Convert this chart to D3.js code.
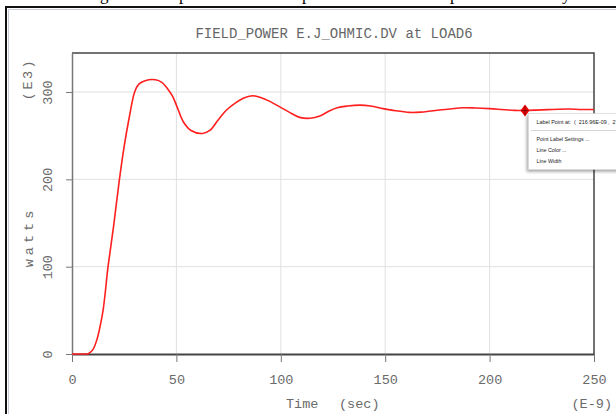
<!DOCTYPE html>
<html>
<head>
<meta charset="utf-8">
<script src="https://cdn.jsdelivr.net/npm/d3@7/dist/d3.min.js"></script>
<style>
  html, body { margin: 0; padding: 0; background: #fff; }
  svg { display: block; }
</style>
</head>
<body>
<svg id="chart" width="616" height="414"></svg>
<script>
// ---- data (time in ns, power in E3 watts) ----
const times = [0, 5, 7, 8, 10, 12, 14, 15, 16, 17, 18, 20, 22.5, 25, 27.5, 30, 32, 35, 40, 43, 46, 48, 50, 53.3, 57, 62.5, 66, 70, 74, 78, 82, 86.4, 90, 95, 99.5, 104, 109, 114, 118.7, 123, 127, 132, 137.8, 143, 149, 155, 161.7, 167, 171, 176, 181, 187, 193, 200, 206, 212, 217, 222, 228, 233, 238, 244, 250];
const power = [0, 0, 0, 0.5, 5, 17, 38, 52, 72, 95, 113, 148, 196, 238, 272, 300, 309, 313, 314, 311, 303, 296, 285, 266, 256, 252.6, 256, 268, 279.4, 287, 293, 295.8, 294, 289, 283, 277, 271, 270, 272.5, 278, 282, 284, 285, 284, 281, 278.5, 276.7, 277, 278, 279.5, 280.5, 282, 281.8, 281, 280, 279, 279, 279.3, 279.8, 280.3, 280.5, 280, 280];
const xTicks = [0, 50, 100, 150, 200, 250];
const yTicks = [0, 100, 200, 300];
const markerPoint = [216.96, 278.79];
const titleText = "FIELD_POWER E.J_OHMIC.DV at LOAD6";
const menuItems = ["Point Label Settings ...", "Line Color ...", "Line Width"];
const menuHeader = "Label Point at:  (  216.96E-09 ,  278.79E+03 )";
const captionGlyphs = [["g", 100], ["p", 179], ["p", 302], ["p", 450], ["y", 562]];

const svg = d3.select("#chart");
const mono = "'Liberation Mono', 'Courier New', monospace";
const textGray = "#6a6a6a";

const pL = 72, pR = 594, pT = 53, pB = 354;
const x = d3.scaleLinear().domain([0, 250]).range([pL, pR]);
const y = d3.scaleLinear().domain([0, 344.7]).range([pB, pT]);

// clipped caption fragment at very top (previous document line)
svg.append("g").selectAll("text").data(captionGlyphs).join("text")
  .attr("x", d => d[1]).attr("y", -0.5)
  .attr("font-family", "'Liberation Serif', serif").attr("font-size", 17)
  .attr("fill", "#000").text(d => d[0]);

// outer frame
svg.append("path").attr("d", `M6,420 V7 H620`).attr("fill", "none")
  .attr("stroke", "#111").attr("stroke-width", 2);
svg.append("path").attr("d", `M8.5,420 V9.5 H620`).attr("fill", "none")
  .attr("stroke", "#c8cbd8").attr("stroke-width", 1);

// title
svg.append("text").attr("x", (pL + pR) / 2 + 1).attr("y", 38)
  .attr("text-anchor", "middle").attr("font-family", mono).attr("font-size", 14)
  .attr("fill", "#666").text(titleText);

// gridlines
const grid = svg.append("g");
grid.selectAll("line.v").data(xTicks.slice(1, -1)).join("line")
  .attr("x1", d => x(d)).attr("x2", d => x(d)).attr("y1", pT).attr("y2", pB)
  .attr("stroke", "#e0e0e0").attr("stroke-width", 1);
grid.selectAll("line.h").data(yTicks.slice(1)).join("line")
  .attr("x1", pL).attr("x2", pR).attr("y1", d => y(d)).attr("y2", d => y(d))
  .attr("stroke", "#e0e0e0").attr("stroke-width", 1);

// frame top/right
svg.append("path").attr("d", `M${pL},${pT} H${pR} V${pB}`)
  .attr("fill", "none").attr("stroke", "#444").attr("stroke-width", 1.5);

// x axis
const xAxis = svg.append("g").attr("transform", `translate(0,${pB})`)
  .call(d3.axisBottom(x).tickValues(xTicks).tickSize(8).tickPadding(12).tickSizeOuter(0));
xAxis.select(".domain").attr("stroke", "#444").attr("stroke-width", 2);
xAxis.selectAll(".tick line").attr("stroke", "#777");
xAxis.selectAll(".tick text").attr("font-family", mono).attr("font-size", 13.5)
  .attr("fill", textGray);

// y axis
const yAxis = svg.append("g").attr("transform", `translate(${pL},0)`)
  .call(d3.axisLeft(y).tickValues(yTicks).tickSize(6).tickSizeOuter(0));
yAxis.select(".domain").attr("stroke", "#777").attr("stroke-width", 1.5);
yAxis.selectAll(".tick line").attr("stroke", "#777");
yAxis.selectAll(".tick text")
  .attr("x", null).attr("dy", null)
  .attr("transform", "translate(-24,0) rotate(-90)")
  .attr("text-anchor", "middle").attr("dominant-baseline", "middle")
  .attr("font-family", mono).attr("font-size", 13.5).attr("fill", textGray);

// axis titles
svg.append("text").attr("transform", "translate(28,79) rotate(-90)")
  .attr("text-anchor", "middle").attr("dominant-baseline", "middle")
  .attr("font-family", mono).attr("font-size", 13.5).attr("letter-spacing", 2.5)
  .attr("fill", textGray).text("(E3)");
svg.append("text").attr("transform", "translate(29,237) rotate(-90)")
  .attr("text-anchor", "middle").attr("dominant-baseline", "middle")
  .attr("font-family", mono).attr("font-size", 13.5).attr("letter-spacing", 4)
  .attr("fill", textGray).text("watts");
const xt = svg.append("text").attr("y", 408).attr("font-family", mono)
  .attr("font-size", 13.5).attr("fill", textGray);
xt.append("tspan").attr("x", 286).text("Time");
xt.append("tspan").attr("x", 339).text("(sec)");
svg.append("text").attr("x", 612).attr("y", 408).attr("text-anchor", "end")
  .attr("font-family", mono).attr("font-size", 13.5).attr("fill", textGray).text("(E-9)");

// curve
const pts = times.map((t, i) => [t, power[i]]);
svg.append("path").datum(pts)
  .attr("d", d3.line().x(d => x(d[0])).y(d => y(d[1])).curve(d3.curveCatmullRom.alpha(0.5)))
  .attr("fill", "none").attr("stroke", "#ff1f1f").attr("stroke-width", 1.6);

// marker
const mx = x(markerPoint[0]), my = y(markerPoint[1]);
svg.append("path").attr("d", `M${mx},${my - 6} L${mx + 4.5},${my} L${mx},${my + 6} L${mx - 4.5},${my} Z`)
  .attr("fill", "#ee0000");
svg.append("path").attr("d", `M${mx - 3.5},${my} H${mx + 3.5} M${mx},${my - 4.5} V${my + 4.5}`)
  .attr("stroke", "#600").attr("stroke-width", 0.7);

// context menu
const defs = svg.append("defs");
const f = defs.append("filter").attr("id", "shadow").attr("x", "-20%").attr("y", "-20%")
  .attr("width", "140%").attr("height", "150%");
f.append("feDropShadow").attr("dx", -1.5).attr("dy", 2).attr("stdDeviation", 1.5)
  .attr("flood-color", "#000").attr("flood-opacity", 0.35);
const menu = svg.append("g");
menu.append("rect").attr("x", 528.5).attr("y", 113.5).attr("width", 100).attr("height", 56)
  .attr("fill", "#fff").attr("stroke", "#ccc").attr("stroke-width", 0.5)
  .attr("filter", "url(#shadow)");
menu.append("text").attr("x", 536.5).attr("y", 123.5)
  .attr("font-family", "'Liberation Sans', Arial, sans-serif").attr("font-size", 5.4)
  .attr("fill", "#222").style("white-space", "pre").text(menuHeader);
menu.append("line").attr("x1", 531).attr("x2", 616).attr("y1", 130.5).attr("y2", 130.5)
  .attr("stroke", "#ccc").attr("stroke-width", 0.8);
menu.selectAll("text.item").data(menuItems).join("text")
  .attr("x", 536.5).attr("y", (d, i) => 140.5 + i * 11.3)
  .attr("font-family", "'Liberation Sans', Arial, sans-serif").attr("font-size", 5.3)
  .attr("fill", "#222").text(d => d);
</script>
</body>
</html>
